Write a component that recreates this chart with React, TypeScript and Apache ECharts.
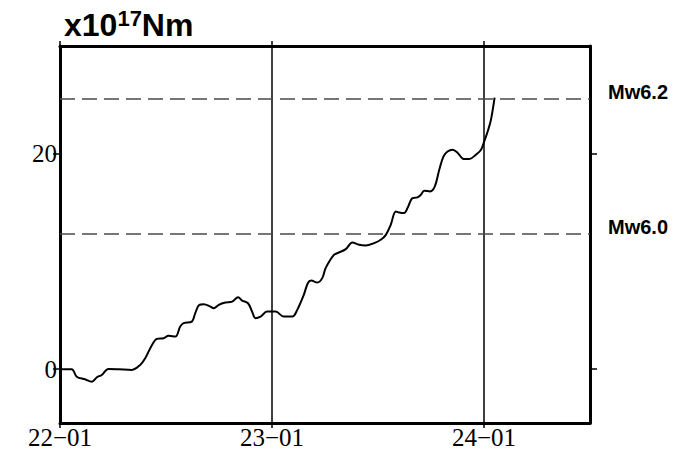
import React, { useEffect, useRef } from 'react';
import * as echarts from 'echarts';

// decimal year of each sample
const years = [
  2022.000, 2022.055, 2022.079, 2022.118, 2022.150, 2022.174, 2022.197, 2022.228, 2022.276, 2022.339,
  2022.378, 2022.402, 2022.434, 2022.457, 2022.488, 2022.512, 2022.544, 2022.567, 2022.583, 2022.622,
  2022.638, 2022.657, 2022.678, 2022.709, 2022.725, 2022.749, 2022.780, 2022.812, 2022.840, 2022.859,
  2022.887, 2022.906, 2022.922, 2022.946, 2022.977, 2023.017, 2023.056, 2023.096, 2023.119, 2023.150,
  2023.169, 2023.185, 2023.214, 2023.237, 2023.253, 2023.292, 2023.316, 2023.348, 2023.379, 2023.411,
  2023.442, 2023.482, 2023.513, 2023.537, 2023.560, 2023.584, 2023.600, 2023.623, 2023.639, 2023.663,
  2023.686, 2023.702, 2023.718, 2023.746, 2023.768, 2023.789, 2023.809, 2023.828, 2023.852, 2023.876,
  2023.904, 2023.931, 2023.962, 2023.986, 2024.001, 2024.020, 2024.033, 2024.050,
];
// cumulative seismic moment, x10^17 Nm
const moment = [
  0.0, 0.0, -0.70, -0.94, -1.16, -0.75, -0.54, 0.02, -0.01, -0.07,
  0.39, 1.01, 2.25, 2.81, 2.87, 3.09, 3.02, 3.95, 4.27, 4.41,
  5.20, 5.97, 6.03, 5.81, 5.66, 5.97, 6.18, 6.27, 6.68, 6.37,
  6.12, 5.34, 4.73, 4.88, 5.34, 5.34, 4.88, 4.88, 5.50, 6.90,
  7.98, 8.22, 8.04, 8.45, 9.38, 10.61, 10.83, 11.14, 11.76, 11.54,
  11.48, 11.70, 12.01, 12.47, 13.40, 14.64, 14.54, 14.49, 14.95, 15.88,
  15.94, 16.19, 16.56, 16.50, 16.96, 18.51, 19.75, 20.21, 20.37, 20.07,
  19.51, 19.51, 19.91, 20.37, 21.14, 22.23, 23.16, 25.20,
];
const xTicks = [2022, 2023, 2024];
const yTicks = [0, 20];
const mwLevels = [25.12, 12.59];
const mwLabels = ['Mw6.2', 'Mw6.0'];

const SERIF = '"Liberation Serif", "Times New Roman", serif';
const SANS = '"Liberation Sans", Arial, sans-serif';

export default function App() {
  const ref = useRef<HTMLDivElement>(null);
  useEffect(() => {
    const chart = echarts.init(ref.current!, null, { renderer: 'svg' });
    const data = years.map((y, i) => [y, moment[i]]);
    const xLabel = (v: number) => `${String(Math.round(v)).slice(2)}\u221201`;
    const frameLine = { show: true, onZero: false, lineStyle: { color: '#000', width: 3 } };
    chart.setOption({
      animation: false,
      backgroundColor: '#fff',
      grid: { left: 60, right: 105, top: 46, bottom: 35, containLabel: false },
      xAxis: [
        {
          type: 'value', min: 2022, max: 2024.5, position: 'bottom',
          axisLine: frameLine,
          axisTick: { show: true, inside: false, length: 5, customValues: xTicks, lineStyle: { color: '#000', width: 1.5 } },
          axisLabel: { show: true, customValues: xTicks, formatter: xLabel, fontFamily: SERIF, fontSize: 25, color: '#000', margin: 2 },
          splitLine: { show: true, lineStyle: { color: '#000', width: 1.5 } },
        },
        {
          type: 'value', min: 2022, max: 2024.5, position: 'top',
          axisLine: frameLine,
          axisTick: { show: true, inside: false, length: 5, customValues: xTicks, lineStyle: { color: '#000', width: 1.5 } },
          axisLabel: { show: false },
          splitLine: { show: false },
        },
      ],
      yAxis: [
        {
          type: 'value', min: -5, max: 30, position: 'left',
          axisLine: frameLine,
          axisTick: { show: true, inside: false, length: 7, customValues: yTicks, lineStyle: { color: '#000', width: 1.5 } },
          axisLabel: { show: true, customValues: yTicks, fontFamily: SERIF, fontSize: 25, color: '#000', margin: 3 },
          splitLine: { show: false },
        },
        {
          type: 'value', min: -5, max: 30, position: 'right',
          axisLine: frameLine,
          axisTick: { show: true, inside: false, length: 7, customValues: yTicks, lineStyle: { color: '#000', width: 1.5 } },
          axisLabel: { show: false },
          splitLine: { show: false },
        },
      ],
      graphic: [
        {
          type: 'text', left: 64, top: 7,
          style: {
            text: '{a|x10}{b|17}{a|Nm}',
            rich: {
              a: { fontFamily: SANS, fontWeight: 'bold', fontSize: 32, fill: '#000', lineHeight: 34, verticalAlign: 'bottom' },
              b: { fontFamily: SANS, fontWeight: 'bold', fontSize: 22, fill: '#000', lineHeight: 34, verticalAlign: 'top' },
            },
          },
        },
      ],
      series: [
        {
          type: 'line', xAxisIndex: 0, yAxisIndex: 0,
          data, showSymbol: false, symbol: 'none', smooth: 0.35,
          lineStyle: { color: '#000', width: 2 },
          markLine: {
            silent: true, symbol: ['none', 'none'],
            lineStyle: { color: '#4a4a4a', width: 1.5, type: [15, 7] },
            label: {
              show: true, position: 'end', distance: 18, offset: [0, -7],
              formatter: '{b}', fontFamily: SANS, fontWeight: 'bold', fontSize: 20, color: '#000',
            },
            data: mwLevels.map((v, i) => ({ yAxis: v, name: mwLabels[i] })),
          },
        },
      ],
    });
    return () => chart.dispose();
  }, []);
  return (
    <div
      ref={ref}
      style={{ position: 'fixed', left: 0, top: 0, width: 695, height: 458, background: '#fff' }}
    />
  );
}
